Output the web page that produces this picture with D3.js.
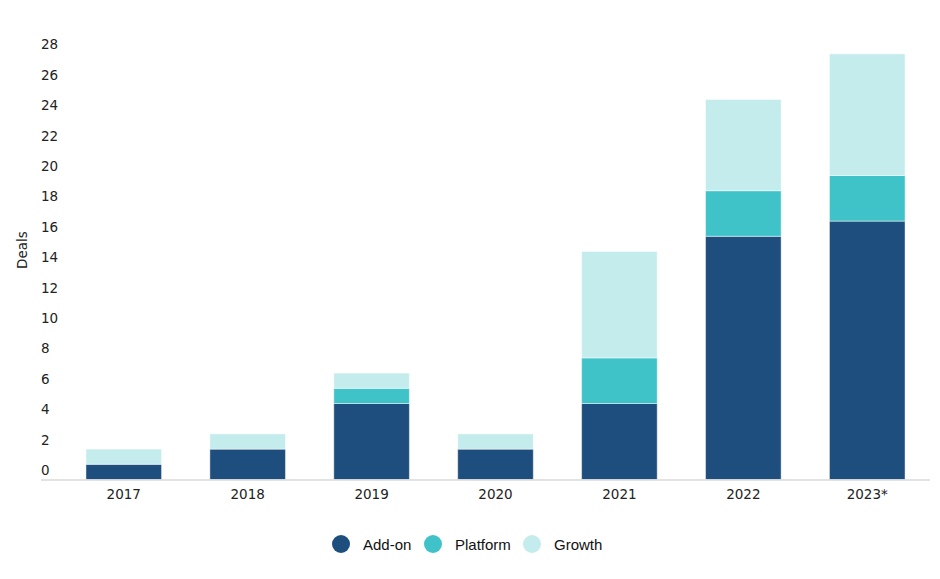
<!DOCTYPE html>
<html>
<head>
<meta charset="utf-8">
<script src="https://cdn.jsdelivr.net/npm/d3@7"></script>
<style>
  body { margin: 0; background: #fff; }
</style>
</head>
<body>
<svg></svg>
<script>
var years = ["2017", "2018", "2019", "2020", "2021", "2022", "2023*"];
var addOn = [1, 2, 5, 2, 5, 16, 17];
var platform = [0, 0, 1, 0, 3, 3, 3];
var growth = [1, 1, 1, 1, 7, 6, 8];
var seriesNames = ["Add-on", "Platform", "Growth"];
var yTicks = [0, 2, 4, 6, 8, 10, 12, 14, 16, 18, 20, 22, 24, 26, 28];

var drawGraph = function(){
  var screen = { width: 940, height: 579 };
  var margins = { top: 20, left: 41, right: 10, bottom: 99.5 };

  var width = screen.width - margins.left - margins.right;
  var height = screen.height - margins.top - margins.bottom;

  var svg = d3.select("svg")
              .attr("width", screen.width)
              .attr("height", screen.height);

  var colors = d3.scaleOrdinal()
                 .domain(seriesNames)
                 .range(["#1e4e7e", "#40c3c8", "#c5ecec"]);

  var table = years.map(function(y, i){
    return { year: y, "Add-on": addOn[i], "Platform": platform[i], "Growth": growth[i] };
  });
  var stacked = d3.stack().keys(seriesNames)(table);

  // bands start a bit right of the axis line
  var xScale = d3.scaleBand()
                 .domain(years)
                 .range([20.8, 888.2])
                 .paddingInner(0.39)
                 .paddingOuter(0.195);

  var yScale = d3.scaleLinear()
                 .domain([0, 30])
                 .range([height, height - 30 * 15.2]);

  var plot = svg.append("g")
                .attr("transform", "translate(" + margins.left + "," + margins.top + ")");

  var fontY = "DejaVu Sans, Verdana, sans-serif";

  // y labels sit a little above their value
  plot.append("g").selectAll("text")
      .data(yTicks)
      .enter()
      .append("text")
      .attr("x", 0)
      .attr("y", function(d){ return yScale(d) - 4.5; })
      .attr("font-family", fontY)
      .attr("font-size", 13.5)
      .attr("fill", "#222")
      .text(function(d){ return d; });

  var layers = plot.selectAll("g.layer")
                   .data(stacked)
                   .enter()
                   .append("g")
                   .classed("layer", true)
                   .attr("fill", function(d){ return colors(d.key); });

  layers.selectAll("rect")
        .data(function(d){ return d; })
        .enter()
        .append("rect")
        .attr("x", function(d){ return xScale(d.data.year); })
        .attr("y", function(d){ return yScale(d[1]); })
        .attr("width", xScale.bandwidth())
        .attr("height", function(d){ return yScale(d[0]) - yScale(d[1]); })
        .attr("stroke", "#ffffff")
        .attr("stroke-opacity", function(d){ return d[1] > d[0] ? 0.45 : 0; })
        .attr("stroke-width", 1);

  plot.append("line")
      .attr("x1", 0)
      .attr("x2", width)
      .attr("y1", height + 0.5)
      .attr("y2", height + 0.5)
      .attr("stroke", "#d9d9d9")
      .attr("stroke-width", 1.5);

  var xAxis = plot.append("g")
                  .attr("transform", "translate(0," + height + ")")
                  .call(d3.axisBottom(xScale).tickSize(0).tickPadding(10));
  xAxis.select(".domain").remove();
  xAxis.selectAll("text")
       .attr("font-family", fontY)
       .attr("font-size", 13.5)
       .attr("fill", "#222");

  svg.append("text")
     .attr("transform", "translate(27,250) rotate(-90)")
     .attr("text-anchor", "middle")
     .attr("font-family", fontY)
     .attr("font-size", 13.5)
     .attr("fill", "#222")
     .text("Deals");

  var legendX = [341, 433, 532];
  var legend = svg.append("g").classed("legend", true);
  var legendLines = legend.selectAll("g")
                          .data(seriesNames)
                          .enter()
                          .append("g")
                          .attr("transform", function(d, i){ return "translate(" + legendX[i] + ",544)"; });
  legendLines.append("circle")
             .attr("r", 9)
             .attr("fill", function(d){ return colors(d); });
  legendLines.append("text")
             .attr("x", 22)
             .attr("y", 5.5)
             .attr("font-family", "Liberation Sans, Arial, sans-serif")
             .attr("font-size", 15)
             .attr("fill", "#111")
             .text(function(d){ return d; });
};

drawGraph();
</script>
</body>
</html>
